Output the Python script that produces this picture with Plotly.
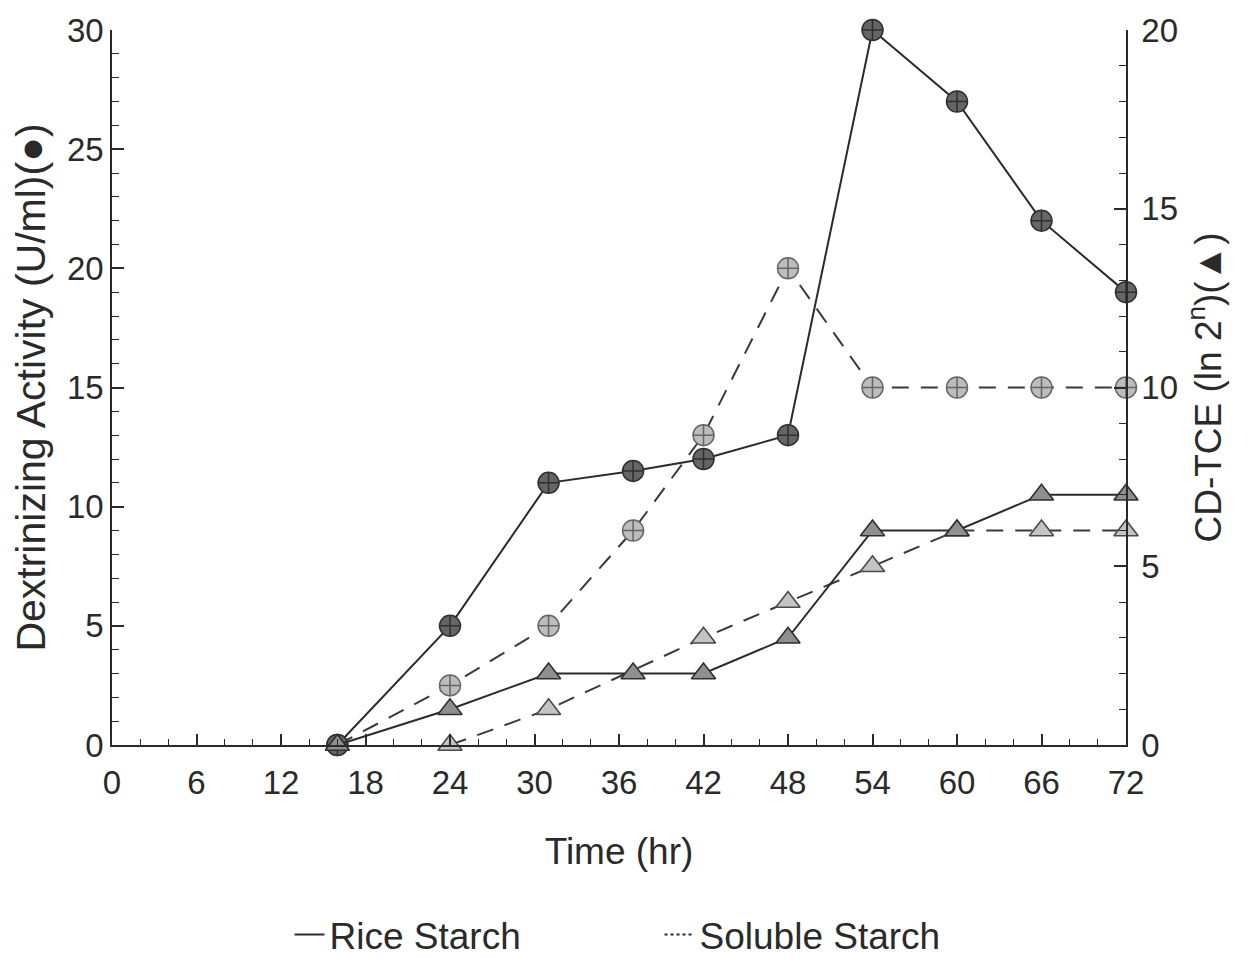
import plotly.graph_objects as go

# Sampling times (hr)
time_hr = [16, 24, 31, 37, 42, 48, 54, 60, 66, 72]
time_sol_cd = [24, 31, 42, 48, 54, 60, 66, 72]

# Dextrinizing activity (U/ml), left axis
rice_dextrin = [0, 5, 11, 11.5, 12, 13, 30, 27, 22, 19]
soluble_dextrin = [0, 2.5, 5, 9, 13, 20, 15, 15, 15, 15]

# CD-TCE (ln 2^n), right axis
rice_cdtce = [0, 1, 2, 2, 2, 3, 6, 6, 7, 7]
soluble_cdtce = [0, 1, 3, 4, 5, 6, 6, 6]

x_ticks = list(range(0, 73, 6))
left_ticks = [0, 5, 10, 15, 20, 25, 30]
right_ticks = [0, 5, 10, 15, 20]

FONT = "Liberation Sans, Arial, sans-serif"
INK = "#2a2a2a"

fig = go.Figure()

# Triangles (CD-TCE) drawn first so circles sit on top
fig.add_trace(go.Scatter(
    x=time_sol_cd, y=soluble_cdtce, yaxis="y2", mode="lines+markers",
    line=dict(color="#3a3a3a", width=2, dash="17px,12px"),
    marker=dict(symbol="triangle-up", size=21, color="#c4c4c4",
                line=dict(color="#4a4a4a", width=1.6)),
    cliponaxis=False, showlegend=False))
fig.add_trace(go.Scatter(
    x=time_hr, y=rice_cdtce, yaxis="y2", mode="lines+markers",
    line=dict(color="#2a2a2a", width=2),
    marker=dict(symbol="triangle-up", size=21, color="#8f8f8f",
                line=dict(color="#2f2f2f", width=1.6)),
    cliponaxis=False, showlegend=False))

# Circles (dextrinizing activity)
fig.add_trace(go.Scatter(
    x=time_hr, y=soluble_dextrin, mode="lines+markers",
    line=dict(color="#3a3a3a", width=2, dash="17px,12px"),
    marker=dict(symbol="circle-cross", size=21, color="#bdbdbd",
                line=dict(color="#666", width=1.5)),
    cliponaxis=False, showlegend=False))
fig.add_trace(go.Scatter(
    x=time_hr, y=rice_dextrin, mode="lines+markers",
    line=dict(color="#2a2a2a", width=2),
    marker=dict(symbol="circle-cross", size=21, color="#656565",
                line=dict(color="#2f2f2f", width=1.5)),
    cliponaxis=False, showlegend=False))

# Legend entries (line style only)
fig.add_trace(go.Scatter(x=[None], y=[None], mode="lines", name="Rice Starch",
                         line=dict(color="#2a2a2a", width=2)))
fig.add_trace(go.Scatter(x=[None], y=[None], mode="lines", name="Soluble Starch",
                         line=dict(color="#2a2a2a", width=2, dash="dot")))

axis_common = dict(
    showline=True, linecolor=INK, linewidth=1.5, showgrid=False, zeroline=False,
    ticks="inside", tickcolor=INK, tickwidth=1.5,
    tickfont=dict(family=FONT, size=33, color=INK),
)

fig.update_layout(
    width=1248, height=958,
    margin=dict(l=112, r=122, t=27, b=213),
    paper_bgcolor="white", plot_bgcolor="white",
    font=dict(family=FONT, color=INK),
    xaxis=dict(
        range=[0, 72], tickvals=x_ticks, ticklen=11, ticklabelstandoff=8,
        minor=dict(dtick=2, tick0=0, ticks="inside", ticklen=6, tickcolor=INK, tickwidth=1.2),
        title=dict(text="Time (hr)", font=dict(family=FONT, size=37, color=INK), standoff=38),
        **axis_common),
    yaxis=dict(
        range=[0, 30], tickvals=left_ticks, ticklen=12,
        minor=dict(dtick=1, tick0=0, ticks="inside", ticklen=7, tickcolor=INK, tickwidth=1.2),
        title=dict(text="Dextrinizing Activity (U/ml)(●)",
                   font=dict(family=FONT, size=41, color=INK), standoff=9),
        **axis_common),
    yaxis2=dict(
        range=[0, 20], tickvals=right_ticks, ticklen=12, overlaying="y", side="right",
        ticklabelstandoff=7,
        minor=dict(dtick=1, tick0=0, ticks="inside", ticklen=7, tickcolor=INK, tickwidth=1.2),
        title=dict(text="CD-TCE (ln 2<sup>n</sup>)(▲)",
                   font=dict(family=FONT, size=37, color=INK), standoff=18),
        **axis_common),
    legend=dict(
        orientation="h", xref="container", x=0.232, xanchor="left",
        yref="container", y=0.024, yanchor="middle",
        font=dict(family=FONT, size=37, color=INK),
        entrywidth=325, entrywidthmode="pixels", bgcolor="rgba(0,0,0,0)",
    ),
)

fig.write_html("out.html")
